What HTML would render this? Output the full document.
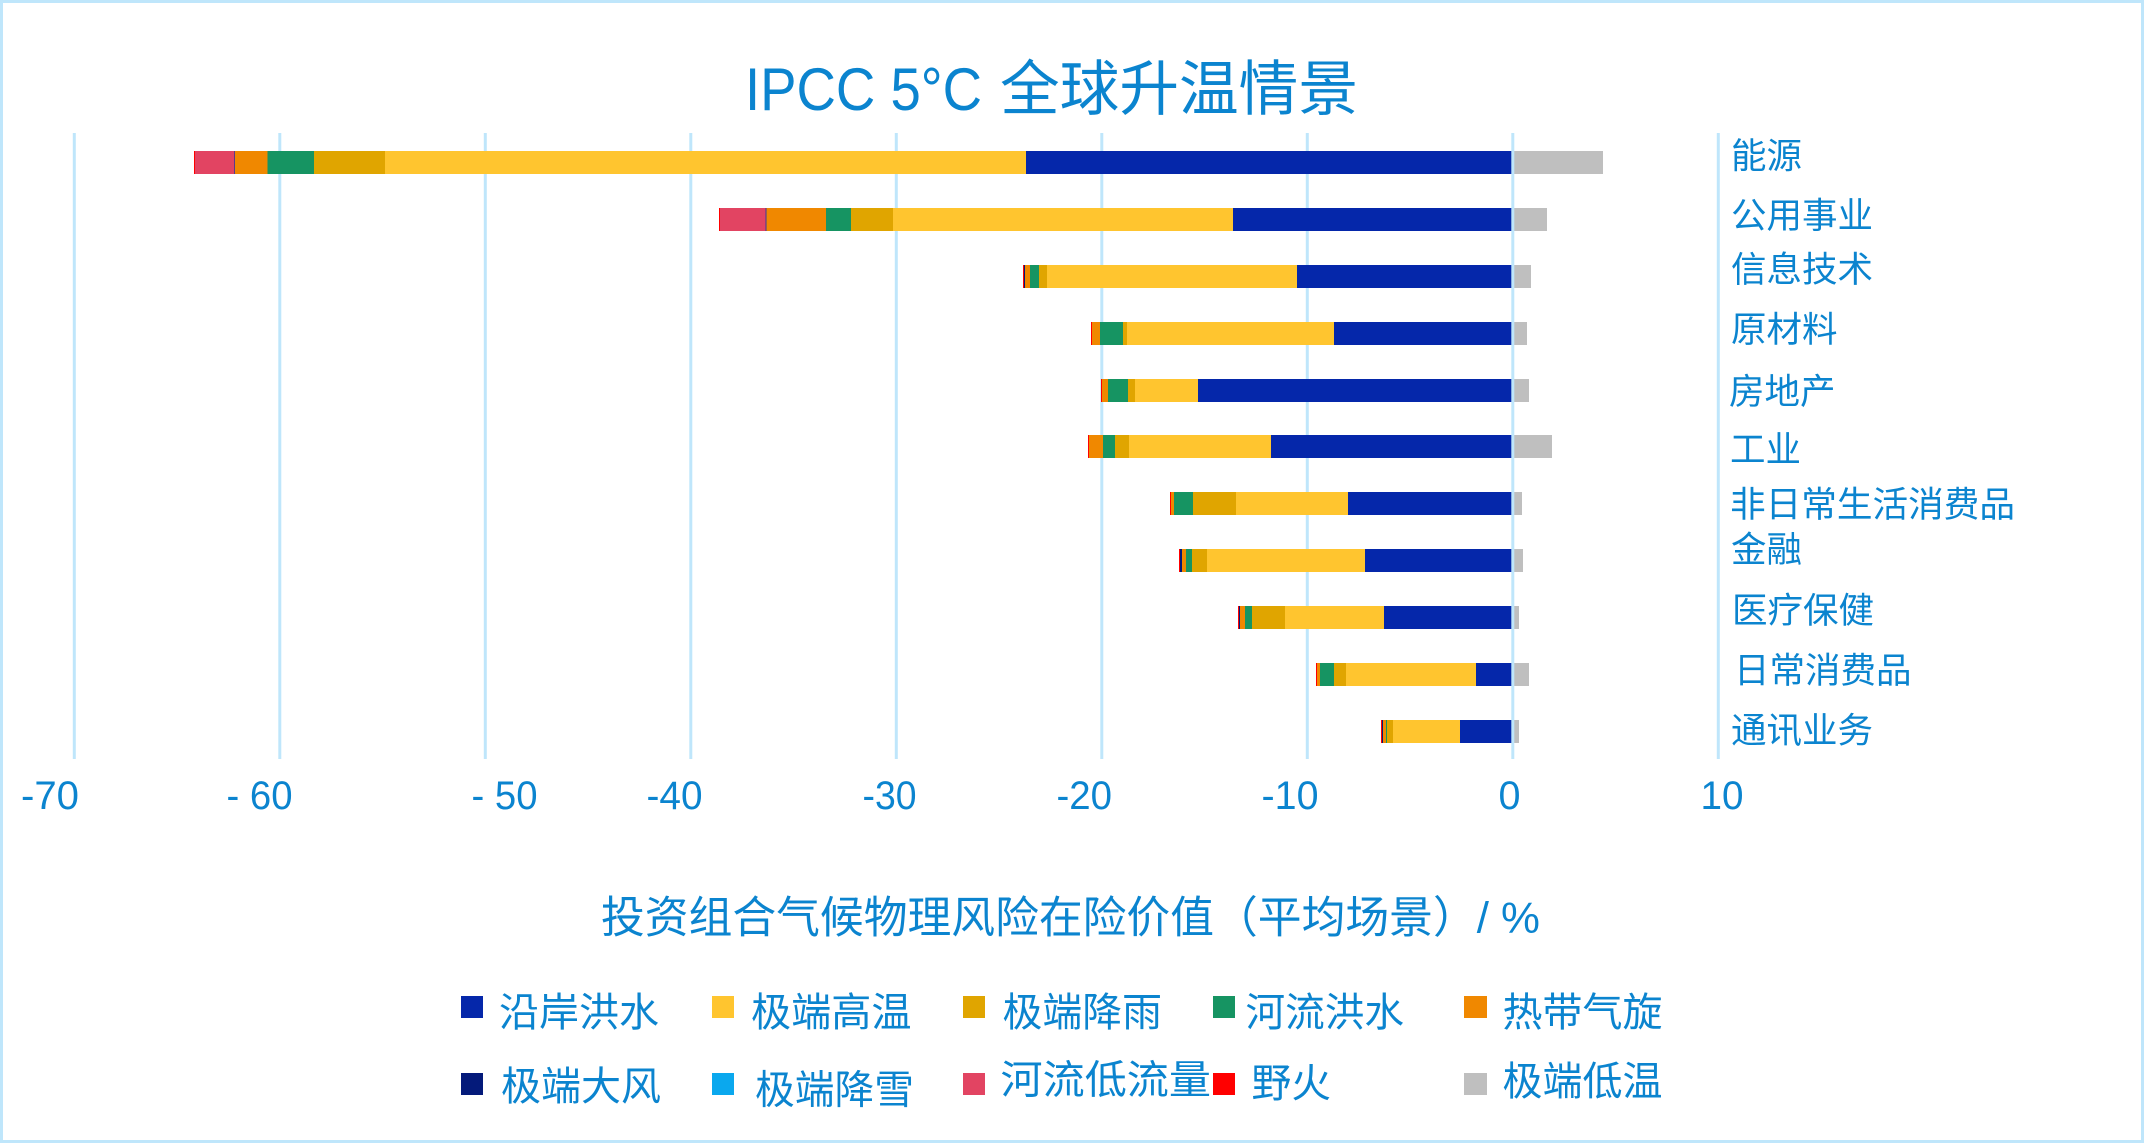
<!DOCTYPE html>
<html>
<head>
<meta charset="utf-8">
<style>
html,body{margin:0;padding:0;background:#fff;}
svg{display:block;}
text{font-family:"Liberation Sans","Noto Sans CJK SC",sans-serif;fill:#0b84cf;}
</style>
</head>
<body>
<svg width="2146" height="1144" viewBox="0 0 2146 1144" xmlns="http://www.w3.org/2000/svg">
<rect x="0" y="0" width="2146" height="1144" fill="#ffffff"/>
<rect x="1.5" y="1.5" width="2141" height="1140" fill="none" stroke="#bfe6fb" stroke-width="3"/>

<!-- title -->
<text x="745" y="110" font-size="60" textLength="237" lengthAdjust="spacingAndGlyphs">IPCC 5°C</text>
<text x="1000" y="110" font-size="60" textLength="358" lengthAdjust="spacingAndGlyphs">全球升温情景</text>

<!-- gridlines -->
<g fill="#bfe6fb">
<rect x="72.8" y="133" width="3" height="626"/>
<rect x="278.3" y="133" width="3" height="626"/>
<rect x="483.8" y="133" width="3" height="626"/>
<rect x="689.3" y="133" width="3" height="626"/>
<rect x="894.8" y="133" width="3" height="626"/>
<rect x="1100.3" y="133" width="3" height="626"/>
<rect x="1305.8" y="133" width="3" height="626"/>
<rect x="1716.8" y="133" width="3" height="626"/>
</g>

<!-- bars -->
<g shape-rendering="crispEdges">
<!-- 1 能源 -->
<g transform="translate(0,151)">
<rect x="194" width="1" height="23" fill="#ff0000"/>
<rect x="195" width="39.7" height="23" fill="#e24462"/>
<rect x="234" width="1" height="23" fill="#5a3a8a"/>
<rect x="235" width="32.3" height="23" fill="#f08800"/>
<rect x="267.3" width="46.7" height="23" fill="#169462"/>
<rect x="314" width="71" height="23" fill="#e0a500"/>
<rect x="385" width="641" height="23" fill="#ffc52f"/>
<rect x="1026" width="486" height="23" fill="#0527aa"/>
<rect x="1512" width="91" height="23" fill="#bfbfbf"/>
</g>
<!-- 2 公用事业 -->
<g transform="translate(0,208)">
<rect x="719" width="1" height="23" fill="#ff0000"/>
<rect x="720" width="45.5" height="23" fill="#e24462"/>
<rect x="765.5" width="1" height="23" fill="#3a3a9a"/>
<rect x="766.5" width="59.5" height="23" fill="#f08800"/>
<rect x="826" width="25" height="23" fill="#169462"/>
<rect x="851" width="42" height="23" fill="#e0a500"/>
<rect x="893" width="340" height="23" fill="#ffc52f"/>
<rect x="1233" width="279" height="23" fill="#0527aa"/>
<rect x="1512" width="35" height="23" fill="#bfbfbf"/>
</g>
<!-- 3 信息技术 -->
<g transform="translate(0,265)">
<rect x="1023" width="1" height="23" fill="#ff0000"/>
<rect x="1024" width="1" height="23" fill="#041a7a"/>
<rect x="1025" width="5" height="23" fill="#f08800"/>
<rect x="1030" width="9" height="23" fill="#169462"/>
<rect x="1039" width="8" height="23" fill="#e0a500"/>
<rect x="1047" width="250" height="23" fill="#ffc52f"/>
<rect x="1297" width="215" height="23" fill="#0527aa"/>
<rect x="1512" width="19" height="23" fill="#bfbfbf"/>
</g>
<!-- 4 原材料 -->
<g transform="translate(0,322)">
<rect x="1091" width="1" height="23" fill="#ff0000"/>
<rect x="1092" width="8" height="23" fill="#f08800"/>
<rect x="1100" width="23" height="23" fill="#169462"/>
<rect x="1123" width="4" height="23" fill="#e0a500"/>
<rect x="1127" width="207" height="23" fill="#ffc52f"/>
<rect x="1334" width="178" height="23" fill="#0527aa"/>
<rect x="1512" width="15" height="23" fill="#bfbfbf"/>
</g>
<!-- 5 房地产 -->
<g transform="translate(0,379)">
<rect x="1101" width="1" height="23" fill="#ff0000"/>
<rect x="1102" width="6" height="23" fill="#f08800"/>
<rect x="1108" width="20" height="23" fill="#169462"/>
<rect x="1128" width="7" height="23" fill="#e0a500"/>
<rect x="1135" width="63" height="23" fill="#ffc52f"/>
<rect x="1198" width="314" height="23" fill="#0527aa"/>
<rect x="1512" width="17" height="23" fill="#bfbfbf"/>
</g>
<!-- 6 工业 -->
<g transform="translate(0,435)">
<rect x="1088" width="1" height="23" fill="#ff0000"/>
<rect x="1089" width="14" height="23" fill="#f08800"/>
<rect x="1103" width="12" height="23" fill="#169462"/>
<rect x="1115" width="14" height="23" fill="#e0a500"/>
<rect x="1129" width="142" height="23" fill="#ffc52f"/>
<rect x="1271" width="241" height="23" fill="#0527aa"/>
<rect x="1512" width="40" height="23" fill="#bfbfbf"/>
</g>
<!-- 7 非日常生活消费品 -->
<g transform="translate(0,492)">
<rect x="1170" width="1" height="23" fill="#ff0000"/>
<rect x="1171" width="3" height="23" fill="#f08800"/>
<rect x="1174" width="19" height="23" fill="#169462"/>
<rect x="1193" width="43" height="23" fill="#e0a500"/>
<rect x="1236" width="112" height="23" fill="#ffc52f"/>
<rect x="1348" width="164" height="23" fill="#0527aa"/>
<rect x="1512" width="10" height="23" fill="#bfbfbf"/>
</g>
<!-- 8 金融 -->
<g transform="translate(0,549)">
<rect x="1179" width="1" height="23" fill="#ff0000"/>
<rect x="1180" width="2" height="23" fill="#041a7a"/>
<rect x="1182" width="4" height="23" fill="#f08800"/>
<rect x="1186" width="6" height="23" fill="#169462"/>
<rect x="1192" width="15" height="23" fill="#e0a500"/>
<rect x="1207" width="158" height="23" fill="#ffc52f"/>
<rect x="1365" width="147" height="23" fill="#0527aa"/>
<rect x="1512" width="11" height="23" fill="#bfbfbf"/>
</g>
<!-- 9 医疗保健 -->
<g transform="translate(0,606)">
<rect x="1238" width="1" height="23" fill="#ff0000"/>
<rect x="1239" width="1" height="23" fill="#041a7a"/>
<rect x="1240" width="5" height="23" fill="#f08800"/>
<rect x="1245" width="7" height="23" fill="#169462"/>
<rect x="1252" width="33" height="23" fill="#e0a500"/>
<rect x="1285" width="99" height="23" fill="#ffc52f"/>
<rect x="1384" width="128" height="23" fill="#0527aa"/>
<rect x="1512" width="7" height="23" fill="#bfbfbf"/>
</g>
<!-- 10 日常消费品 -->
<g transform="translate(0,663)">
<rect x="1316" width="1" height="23" fill="#ff0000"/>
<rect x="1317" width="3" height="23" fill="#f08800"/>
<rect x="1320" width="14" height="23" fill="#169462"/>
<rect x="1334" width="12" height="23" fill="#e0a500"/>
<rect x="1346" width="130" height="23" fill="#ffc52f"/>
<rect x="1476" width="36" height="23" fill="#0527aa"/>
<rect x="1512" width="17" height="23" fill="#bfbfbf"/>
</g>
<!-- 11 通讯业务 -->
<g transform="translate(0,720)">
<rect x="1381" width="1" height="23" fill="#ff0000"/>
<rect x="1382" width="1" height="23" fill="#041a7a"/>
<rect x="1383" width="3" height="23" fill="#f08800"/>
<rect x="1386" width="1" height="23" fill="#169462"/>
<rect x="1387" width="6" height="23" fill="#e0a500"/>
<rect x="1393" width="67" height="23" fill="#ffc52f"/>
<rect x="1460" width="52" height="23" fill="#0527aa"/>
<rect x="1512" width="7" height="23" fill="#bfbfbf"/>
</g>
</g>

<!-- zero line on top -->
<rect x="1511.3" y="133" width="3" height="626" fill="#bfe6fb"/>

<!-- category labels -->
<g font-size="35.5">
<text x="1731" y="168" textLength="71" lengthAdjust="spacingAndGlyphs">能源</text>
<text x="1731" y="227.5" textLength="142" lengthAdjust="spacingAndGlyphs">公用事业</text>
<text x="1731" y="281.5" textLength="142" lengthAdjust="spacingAndGlyphs">信息技术</text>
<text x="1731" y="341.5" textLength="106.5" lengthAdjust="spacingAndGlyphs">原材料</text>
<text x="1729" y="403.5" textLength="106.5" lengthAdjust="spacingAndGlyphs">房地产</text>
<text x="1730" y="461.5" textLength="71" lengthAdjust="spacingAndGlyphs">工业</text>
<text x="1730" y="516.5" textLength="285" lengthAdjust="spacingAndGlyphs">非日常生活消费品</text>
<text x="1731" y="561.5" textLength="71" lengthAdjust="spacingAndGlyphs">金融</text>
<text x="1732" y="622.5" textLength="142" lengthAdjust="spacingAndGlyphs">医疗保健</text>
<text x="1734" y="682.5" textLength="177.5" lengthAdjust="spacingAndGlyphs">日常消费品</text>
<text x="1731" y="742.5" textLength="142" lengthAdjust="spacingAndGlyphs">通讯业务</text>
</g>

<!-- x tick labels -->
<g font-size="40">
<text x="21" y="809" textLength="58" lengthAdjust="spacingAndGlyphs">-70</text>
<text x="226.5" y="809" textLength="66" lengthAdjust="spacingAndGlyphs">- 60</text>
<text x="471.5" y="809" textLength="66" lengthAdjust="spacingAndGlyphs">- 50</text>
<text x="646.5" y="809" textLength="56" lengthAdjust="spacingAndGlyphs">-40</text>
<text x="862.5" y="809" textLength="54" lengthAdjust="spacingAndGlyphs">-30</text>
<text x="1056.5" y="809" textLength="55.5" lengthAdjust="spacingAndGlyphs">-20</text>
<text x="1261.5" y="809" textLength="57" lengthAdjust="spacingAndGlyphs">-10</text>
<text x="1498.5" y="809" textLength="22" lengthAdjust="spacingAndGlyphs">0</text>
<text x="1700.5" y="809" textLength="43" lengthAdjust="spacingAndGlyphs">10</text>
</g>

<!-- axis title -->
<text x="601" y="932.5" font-size="44" textLength="939" lengthAdjust="spacingAndGlyphs">投资组合气候物理风险在险价值（平均场景）/ %</text>

<!-- legend -->
<g shape-rendering="crispEdges">
<rect x="461" y="996" width="22" height="22" fill="#0527aa"/>
<rect x="712" y="996" width="22" height="22" fill="#ffc52f"/>
<rect x="963" y="996" width="22" height="22" fill="#e0a500"/>
<rect x="1213" y="996" width="22" height="22" fill="#169462"/>
<rect x="1464" y="996" width="23" height="22" fill="#f08800"/>
<rect x="461" y="1073" width="22" height="22" fill="#041a7a"/>
<rect x="712" y="1073" width="22" height="22" fill="#0aa8ee"/>
<rect x="963" y="1073" width="22" height="22" fill="#e24462"/>
<rect x="1213" y="1073" width="22" height="22" fill="#ff0000"/>
<rect x="1464" y="1073" width="23" height="22" fill="#bfbfbf"/>
</g>
<g font-size="40">
<text x="499" y="1026" textLength="160" lengthAdjust="spacingAndGlyphs">沿岸洪水</text>
<text x="751" y="1026" textLength="160.5" lengthAdjust="spacingAndGlyphs">极端高温</text>
<text x="1002.5" y="1026" textLength="159.5" lengthAdjust="spacingAndGlyphs">极端降雨</text>
<text x="1245.5" y="1026" textLength="158.5" lengthAdjust="spacingAndGlyphs">河流洪水</text>
<text x="1502.5" y="1026" textLength="160" lengthAdjust="spacingAndGlyphs">热带气旋</text>
<text x="501" y="1100" textLength="160" lengthAdjust="spacingAndGlyphs">极端大风</text>
<text x="755" y="1103.5" textLength="159" lengthAdjust="spacingAndGlyphs">极端降雪</text>
<text x="1000.5" y="1093.5" textLength="210.5" lengthAdjust="spacingAndGlyphs">河流低流量</text>
<text x="1251.5" y="1097" textLength="79.5" lengthAdjust="spacingAndGlyphs">野火</text>
<text x="1502.5" y="1095" textLength="160" lengthAdjust="spacingAndGlyphs">极端低温</text>
</g>
</svg>
</body>
</html>
